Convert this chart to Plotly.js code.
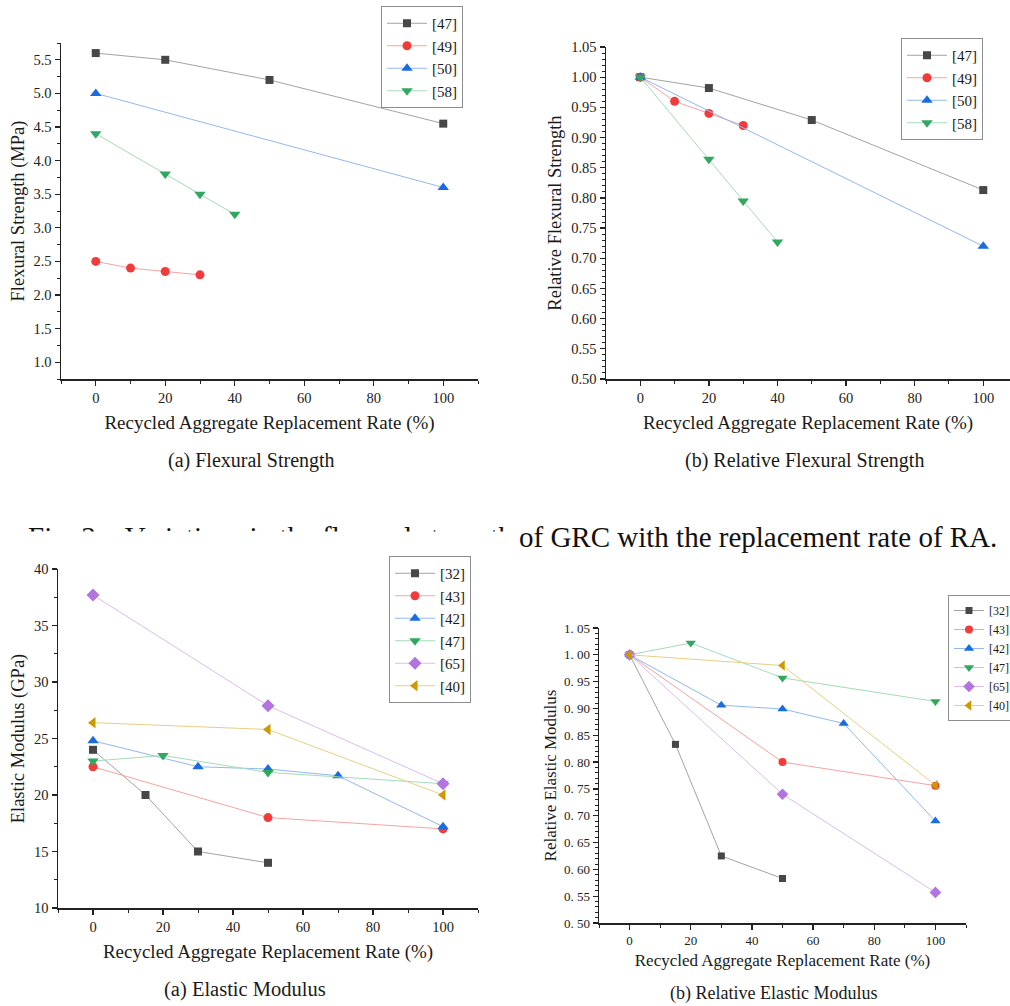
<!DOCTYPE html>
<html>
<head>
<meta charset="utf-8">
<script src="https://cdn.plot.ly/plotly-3.0.1.min.js"></script>
<style>html,body{margin:0;padding:0;background:#fff;}#chart{width:1010px;height:1006px;}</style>
</head>
<body>
<div id="chart"></div>
<script>
// ---------- DATA ----------
// (a) Flexural Strength (MPa)
const fsX47 = [0, 20, 50, 100], fsY47 = [5.6, 5.5, 5.2, 4.55];
const fsX49 = [0, 10, 20, 30],  fsY49 = [2.5, 2.4, 2.35, 2.3];
const fsX50 = [0, 100],         fsY50 = [5.0, 3.6];
const fsX58 = [0, 20, 30, 40],  fsY58 = [4.4, 3.8, 3.5, 3.2];
// (b) Relative Flexural Strength
const rfY47 = [1.0, 0.982, 0.929, 0.813];
const rfY49 = [1.0, 0.96, 0.94, 0.92];
const rfY50 = [1.0, 0.72];
const rfY58 = [1.0, 0.864, 0.795, 0.727];
// (a) Elastic Modulus (GPa)
const emX32 = [0, 15, 30, 50],      emY32 = [24, 20, 15, 14];
const emX43 = [0, 50, 100],         emY43 = [22.5, 18, 17];
const emX42 = [0, 30, 50, 70, 100], emY42 = [24.8, 22.5, 22.3, 21.7, 17.2];
const emX47 = [0, 20, 50, 100],     emY47 = [23, 23.5, 22, 21];
const emX65 = [0, 50, 100],         emY65 = [37.7, 27.9, 21];
const emX40 = [0, 50, 100],         emY40 = [26.4, 25.8, 20];
// (b) Relative Elastic Modulus
const reY32 = [1.0, 0.833, 0.625, 0.583];
const reY43 = [1.0, 0.80, 0.756];
const reY42 = [1.0, 0.906, 0.899, 0.872, 0.69];
const reY47 = [1.0, 1.022, 0.957, 0.913];
const reY65 = [1.0, 0.74, 0.557];
const reY40 = [1.0, 0.98, 0.757];
// tick labels for the relative elastic modulus axis
const reTickVals = [0.50, 0.55, 0.60, 0.65, 0.70, 0.75, 0.80, 0.85, 0.90, 0.95, 1.00, 1.05];
const reTickText = ['0. 50','0. 55','0. 60','0. 65','0. 70','0. 75','0. 80','0. 85','0. 90','0. 95','1. 00','1. 05'];

// ---------- STYLES ----------
const SERIF = "'Liberation Serif', 'Times New Roman', serif";
const C = {
  gray:   {m: '#474747', l: '#a3a3a3'},
  red:    {m: '#f23c3c', l: '#f7a3a3'},
  blue:   {m: '#1a6de0', l: '#93b8ef'},
  green:  {m: '#30a860', l: '#a3dcb9'},
  purple: {m: '#b274e0', l: '#d9bdf0'},
  gold:   {m: '#cc9a00', l: '#e8cf82'}
};
function tr(name, x, y, col, sym, xa, ya, leg, msize) {
  return {
    type: 'scatter', mode: 'lines+markers', name: name, x: x, y: y,
    xaxis: xa, yaxis: ya, legend: leg,
    line: {color: col.l, width: 1},
    marker: {color: col.m, symbol: sym, size: msize || 9, line: {width: 0}}
  };
}
const traces = [
  tr('[47]', fsX47, fsY47, C.gray,  'square',        'x',  'y',  'legend', 8),
  tr('[49]', fsX49, fsY49, C.red,   'circle',        'x',  'y',  'legend', 9),
  tr('[50]', fsX50, fsY50, C.blue,  'triangle-up',   'x',  'y',  'legend', 10),
  tr('[58]', fsX58, fsY58, C.green, 'triangle-down', 'x',  'y',  'legend', 10),

  tr('[47]', fsX47, rfY47, C.gray,  'square',        'x2', 'y2', 'legend2', 8),
  tr('[49]', fsX49, rfY49, C.red,   'circle',        'x2', 'y2', 'legend2', 9),
  tr('[50]', fsX50, rfY50, C.blue,  'triangle-up',   'x2', 'y2', 'legend2', 10),
  tr('[58]', fsX58, rfY58, C.green, 'triangle-down', 'x2', 'y2', 'legend2', 10),

  tr('[32]', emX32, emY32, C.gray,   'square',        'x3', 'y3', 'legend3', 8),
  tr('[43]', emX43, emY43, C.red,    'circle',        'x3', 'y3', 'legend3', 9),
  tr('[42]', emX42, emY42, C.blue,   'triangle-up',   'x3', 'y3', 'legend3', 10),
  tr('[47]', emX47, emY47, C.green,  'triangle-down', 'x3', 'y3', 'legend3', 10),
  tr('[65]', emX65, emY65, C.purple, 'diamond',       'x3', 'y3', 'legend3', 10),
  tr('[40]', emX40, emY40, C.gold,   'triangle-left', 'x3', 'y3', 'legend3', 10),

  tr('[32]', emX32, reY32, C.gray,   'square',        'x4', 'y4', 'legend4', 7),
  tr('[43]', emX43, reY43, C.red,    'circle',        'x4', 'y4', 'legend4', 8),
  tr('[42]', emX42, reY42, C.blue,   'triangle-up',   'x4', 'y4', 'legend4', 9),
  tr('[47]', emX47, reY47, C.green,  'triangle-down', 'x4', 'y4', 'legend4', 9),
  tr('[65]', emX65, reY65, C.purple, 'diamond',       'x4', 'y4', 'legend4', 9),
  tr('[40]', emX40, reY40, C.gold,   'triangle-left', 'x4', 'y4', 'legend4', 9)
];

const W = 1010, H = 1006;
const px = v => v / W;
const py = v => 1 - v / H;

function axis(o) {
  const base = {
    showline: true, linecolor: '#222', linewidth: 1.5, mirror: false,
    ticks: 'outside', ticklen: 5, tickwidth: 1.3, tickcolor: '#222',
    showgrid: false, zeroline: false, fixedrange: true,
    tickfont: {family: SERIF, size: 14.5, color: '#222'},
    minor: {ticks: 'outside', ticklen: 3, tickwidth: 1, tickcolor: '#222', showgrid: false}
  };
  const r = Object.assign(base, o);
  if (o.minorDtick) { r.minor.dtick = o.minorDtick; delete r.minorDtick; }
  return r;
}
const xTitle = {text: 'Recycled Aggregate Replacement Rate (%)', font: {family: SERIF, size: 19, color: '#1a1a1a'}, standoff: 11};
const yFont = {family: SERIF, size: 18.5, color: '#1a1a1a'};

function legendBox(x, y, fs, iw) {
  return {x: x, y: y, xanchor: 'left', yanchor: 'top', bgcolor: 'rgba(255,255,255,1)',
          bordercolor: '#8c8c8c', borderwidth: 1, font: {family: SERIF, size: fs, color: '#1a1a1a'},
          tracegroupgap: 0, itemclick: false, itemwidth: iw};
}
function label(text, x, y, size) {
  return {text: text, xref: 'paper', yref: 'paper', x: px(x), y: py(y), xanchor: 'center', yanchor: 'middle',
          showarrow: false, font: {family: SERIF, size: size, color: '#1a1a1a'}};
}

const layout = {
  width: W, height: H, autosize: false,
  margin: {l: 0, r: 0, t: 0, b: 0, pad: 0, autoexpand: false},
  paper_bgcolor: '#fff', plot_bgcolor: 'rgba(0,0,0,0)',
  showlegend: true,
  font: {family: SERIF, color: '#1a1a1a'},

  xaxis: axis({domain: [px(61), px(478)], range: [-10, 110], dtick: 20, tick0: 0, minorDtick: 10, anchor: 'y', title: xTitle}),
  yaxis: axis({domain: [py(379), py(43)], range: [0.75, 5.75], dtick: 0.5, tick0: 0, tickformat: '.1f', minorDtick: 0.25, anchor: 'x',
               title: {text: 'Flexural Strength (MPa)', font: yFont, standoff: 4}}),

  xaxis2: axis({domain: [px(606), 1], range: [-10, 107.8], dtick: 20, tick0: 0, minorDtick: 10, anchor: 'y2', title: xTitle}),
  yaxis2: axis({domain: [py(379), py(47)], range: [0.5, 1.05], dtick: 0.05, tick0: 0, tickformat: '.2f', minorDtick: 0.01, anchor: 'x2',
               title: {text: 'Relative Flexural Strength', font: yFont, standoff: 4}}),

  xaxis3: axis({domain: [px(58), px(478)], range: [-10, 110], dtick: 20, tick0: 0, minorDtick: 10, anchor: 'y3', title: xTitle}),
  yaxis3: axis({domain: [py(908), py(569)], range: [10, 40], dtick: 5, tick0: 0, minorDtick: 2.5, anchor: 'x3',
               title: {text: 'Elastic Modulus (GPa)', font: yFont, standoff: 4}}),

  xaxis4: axis({domain: [px(599), px(966)], range: [-10, 110], dtick: 20, tick0: 0, minorDtick: 10, anchor: 'y4',
               tickfont: {family: SERIF, size: 13, color: '#222'},
               title: {text: 'Recycled Aggregate Replacement Rate (%)', font: {family: SERIF, size: 17, color: '#1a1a1a'}, standoff: 7}}),
  yaxis4: axis({domain: [py(923), py(628)], range: [0.5, 1.05], tickmode: 'array', tickvals: reTickVals, ticktext: reTickText,
               minorDtick: 0.01, anchor: 'x4', tickfont: {family: SERIF, size: 13, color: '#222'},
               title: {text: 'Relative Elastic Modulus', font: {family: SERIF, size: 17, color: '#1a1a1a'}, standoff: 3}}),

  legend:  legendBox(px(381), py(6), 15, 40),
  legend2: legendBox(px(901), py(38), 15, 40),
  legend3: legendBox(px(389), py(556), 15, 40),
  legend4: legendBox(px(948), py(595), 12, 30),

  annotations: [
    label('(a) Flexural Strength', 251, 460, 20),
    label('(b) Relative Flexural Strength', 804, 460, 20),
    {text: 'Fig. 3&nbsp;&nbsp;&nbsp;&nbsp;Variations in the flexural strength', xref: 'paper', yref: 'paper',
     x: px(26), y: py(537), xanchor: 'left', yanchor: 'middle', showarrow: false, font: {family: SERIF, size: 29, color: '#111'}},
    {text: 'of GRC with the replacement rate of RA.', xref: 'paper', yref: 'paper',
     x: px(517), y: py(537), xanchor: 'left', yanchor: 'middle', showarrow: false, font: {family: SERIF, size: 29, color: '#111'}},
    // white panel of the lower-left figure overlapping the caption
    {text: ' ', xref: 'paper', yref: 'paper', x: 0, y: py(531), xanchor: 'left', yanchor: 'top', showarrow: false,
     width: 513, height: 22, bgcolor: '#ffffff', borderpad: 0},
    label('(a) Elastic Modulus', 245, 989, 20.5),
    label('(b) Relative Elastic Modulus', 773, 993, 18)
  ]
};

Plotly.newPlot('chart', traces, layout, {displayModeBar: false, staticPlot: true});
</script>
</body>
</html>
